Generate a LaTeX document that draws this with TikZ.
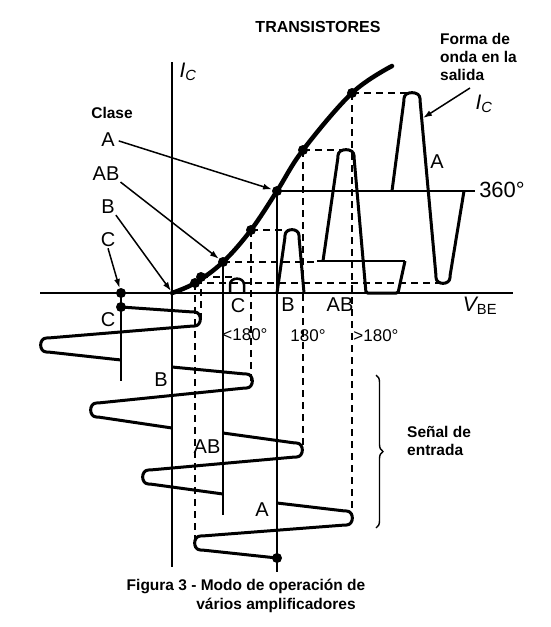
\documentclass[tikz,border=0pt]{standalone}
\usepackage{fontspec}
\setmainfont{Liberation Sans}
\usetikzlibrary{arrows.meta,decorations.pathreplacing}

\begin{document}
\begin{tikzpicture}[x=1pt,y=-1pt,>=Latex]
\tikzset{
  axis/.style={line width=2.4pt},
  bias/.style={line width=2pt},
  guide/.style={line width=1.9pt,dash pattern=on 7pt off 5pt},
  wave/.style={line width=3pt,line join=round,rounded corners=1.5pt},
  curve/.style={line width=4.5pt,line cap=round},
  arr/.style={-{Latex[length=9pt,width=6pt]},line width=1.5pt},
  brc/.style={line width=1.4pt,decorate,decoration={brace,amplitude=7pt}},
  dot/.style={circle,fill=black,inner sep=0pt,minimum size=10pt},
  lab/.style={inner sep=1pt,font=\fontsize{20}{22}\selectfont},
  deg/.style={inner sep=1pt,font=\fontsize{17}{19}\selectfont},
  note/.style={inner sep=0pt,align=left,font=\fontsize{15.5}{18}\selectfont\bfseries}
}
\useasboundingbox (0,0) rectangle (550,627);

% Operating points on the transfer curve
\coordinate (O) at (172,293);
\coordinate (qC) at (121,293);
\coordinate (pAmin) at (195,283);
\coordinate (pCmax) at (201,277);
\coordinate (qAB) at (223,262);
\coordinate (pBmax) at (251,230);
\coordinate (qA) at (277,191);
\coordinate (pABmax) at (303,150);
\coordinate (pAmax) at (352,93);

% Axes
\draw[axis] (40,293) -- (513,293);
\draw[axis] (172,62) -- (172,567);
\node[lab,font=\fontsize{21}{23}\selectfont] (lIc) at (188,72) {\itshape I\textsubscript{C}};
\node[lab,font=\fontsize{21}{23}\selectfont] (lVbe) at (480,306) {{\itshape V}\textsubscript{BE}};

% Transfer curve
\draw[curve] plot[smooth,tension=0.6] coordinates {(172,293) (195,283) (223,262) (251,230) (277,191) (303,150) (352,93) (392,66)};

% Bias lines
\draw[bias] (qC) -- (121,381);
\draw[bias] (qAB) -- (223,515);
\draw[bias] (qA) -- (277,572);
\draw[bias] (qA) -- (475,191);
\draw[bias] (317,261) -- (405,261);

% Projections
\draw[guide] (pAmin) -- (195,548);
\draw[guide] (pAmin) -- (445,283);
\draw[guide] (pCmax) -- (201,320);
\draw[guide] (pCmax) -- (232,277);
\draw[guide] (pBmax) -- (251,381);
\draw[guide] (pBmax) -- (288,230);
\draw[guide] (qAB) -- (317,262);
\draw[guide] (pABmax) -- (303,451);
\draw[guide] (pABmax) -- (345,150);
\draw[guide] (pAmax) -- (352,518);
\draw[guide] (pAmax) -- (408,93);

% Input signals
\draw[wave] (121,307) -- (193,312) .. controls (202.3,312) and (202.3,326) .. (193,326)
  -- (48,338) .. controls (38.7,338) and (38.7,352) .. (48,352) -- (121,360);
\draw[wave] (172,367) -- (245,374) .. controls (254.3,374) and (254.3,388) .. (245,388)
  -- (98,403) .. controls (88.7,403) and (88.7,417) .. (98,417) -- (172,428);
\draw[wave] (223,433) -- (295,443) .. controls (304.3,443) and (304.3,457) .. (295,457)
  -- (150,470) .. controls (140.7,470) and (140.7,484) .. (150,484) -- (223,494);
\draw[wave] (277,503) -- (345,511) .. controls (354.3,511) and (354.3,525) .. (345,525)
  -- (202,536) .. controls (192.7,536) and (192.7,550) .. (202,550) -- (277,558);

% Output signals
\draw[wave,line width=2.5pt] (230,293) -- (230,286) .. controls (230,276.7) and (244,276.7) .. (244,286) -- (244,293);
\draw[wave] (277,293) -- (285,237) .. controls (285,227.7) and (299,227.7) .. (299,237) -- (304,293);
\draw[wave] (323,261) -- (338,157) .. controls (338,147.7) and (354,147.7) .. (354,157)
  -- (366,293) -- (398,293) -- (405,261);
\draw[wave] (392,191) -- (404,100) .. controls (404,90.7) and (420,90.7) .. (420,100)
  -- (436,276) .. controls (436,285.3) and (450,285.3) .. (450,276) -- (464,191);

% Dots
\node[dot] (dC) at (qC) {};
\node[dot] (dCin) at (121,307) {};
\node[dot] (dAmin) at (pAmin) {};
\node[dot] (dCmax) at (pCmax) {};
\node[dot] (dAB) at (qAB) {};
\node[dot] (dBmax) at (pBmax) {};
\node[dot] (dA) at (qA) {};
\node[dot] (dABmax) at (pABmax) {};
\node[dot] (dAmax) at (pAmax) {};
\node[dot] (dAin) at (277,558) {};

% Class labels
\node[note] (nTitle) at (318,27) {\fontsize{16}{18}\selectfont TRANSISTORES};
\node[note] (nClase) at (112,113) {Clase};
\node[lab] (lA) at (108,140) {A};
\node[lab] (lAB) at (106,174) {AB};
\node[lab] (lB) at (108,207) {B};
\node[lab] (lC) at (108,240) {C};
\draw[arr,shorten <=3pt] (lA.east) -- (dA);
\draw[arr] (lAB.south east) -- (dAB);
\draw[arr] (lB.south east) -- ([shift={(-1,-2)}]O);
\draw[arr] (lC.south) -- (dC);

% Labels of the input signals
\node[lab] (iC) at (108,320) {C};
\node[lab] (iB) at (161,380) {B};
\node[lab] (iAB) at (207,447) {AB};
\node[lab] (iA) at (262,510) {A};

% Labels of the output signals
\node[lab] (oC) at (238,306) {C};
\node[lab] (oB) at (288,305) {B};
\node[lab] (oAB) at (340,305) {AB};
\node[deg] (gC) at (245,335) {<180°};
\node[deg] (gB) at (308,336) {180°};
\node[deg] (gAB) at (376,336) {>180°};
\node[lab] (oA) at (437,162) {A};
\node[lab,font=\fontsize{22}{24}\selectfont] (g360) at (502,190) {360°};
\node[lab,font=\fontsize{21}{23}\selectfont] (lIcOut) at (484,104) {\itshape I\textsubscript{C}};
\node[note,anchor=north west] (nForma) at (440,33) {Forma de\\onda en la\\salida};
\coordinate (wOut) at (470,88);
\coordinate (wA) at (423,118);
\draw[arr] (wOut) -- (wA);

% Input brace
\draw[brc] (376,375) -- (376,528);
\node[note,anchor=north west] (nSenal) at (407,426) {Señal de\\entrada};

% Caption
\node[note] (cap1) at (246,586) {Figura 3 - Modo de operación de};
\node[note] (cap2) at (276,605) {vários amplificadores};
\end{tikzpicture}
\end{document}
